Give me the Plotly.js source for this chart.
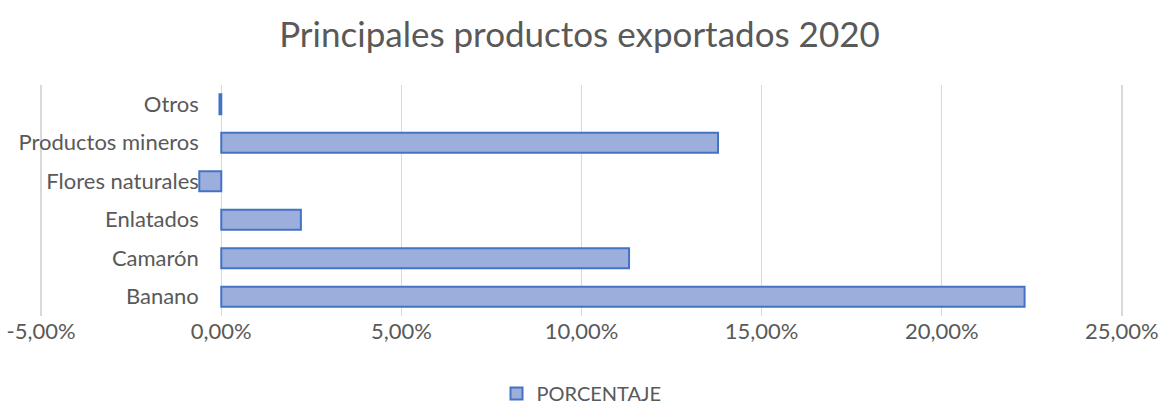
<!DOCTYPE html>
<html>
<head>
<meta charset="utf-8">
<script src="https://cdn.plot.ly/plotly-3.0.1.min.js"></script>
<style>html,body{margin:0;padding:0;background:#fff;}#chart{width:1159px;height:408px;}</style>
</head>
<body>
<div id="chart"></div>
<script>
const categories = ["Banano", "Camarón", "Enlatados", "Flores naturales", "Productos mineros", "Otros"];
const porcentaje = [0.223, 0.1132, 0.0221, -0.0061, 0.1379, -0.0005];
const tickVals = [-0.05, 0, 0.05, 0.10, 0.15, 0.20, 0.25];
const tickLabels = ["-5,00%", "0,00%", "5,00%", "10,00%", "15,00%", "20,00%", "25,00%"];
const seriesName = "PORCENTAJE";
const titleText = "Principales productos exportados 2020";

const ml = 39, mr = 35;
const xMin = -0.0506, xMax = 0.2506;
const zeroPos = (0 - xMin) / (xMax - xMin);

const font = "Lato, 'Open Sans', sans-serif";
const txt = "#595959";

Plotly.newPlot("chart", [{
  type: "bar",
  orientation: "h",
  x: porcentaje,
  y: categories,
  name: seriesName,
  marker: {color: "#9cafdc", line: {color: "#4472c4", width: 2}},
  showlegend: true,
  hoverinfo: "x+y"
}], {
  width: 1159, height: 408,
  margin: {l: ml, r: mr, t: 85, b: 92, autoexpand: false},
  paper_bgcolor: "#fff", plot_bgcolor: "#fff",
  font: {family: font, color: txt},
  title: {text: titleText, font: {family: font, size: 35, color: txt}, x: 0.5, xanchor: "center", y: 0.915, yanchor: "middle"},
  bargap: 0.48,
  xaxis: {
    range: [xMin, xMax], tickvals: tickVals, ticktext: tickLabels,
    showgrid: true, gridcolor: "#d9d9d9", gridwidth: 1.5,
    zeroline: true, zerolinecolor: "#d9d9d9", zerolinewidth: 1.5,
    showline: false, ticks: "", ticklen: 0, automargin: false,
    tickfont: {family: font, size: 22, color: txt}, fixedrange: true
  },
  yaxis: {
    type: "category", categoryorder: "array", categoryarray: categories,
    range: [-0.5, 5.5], anchor: "free", position: zeroPos, automargin: false,
    showgrid: false, zeroline: false, showline: false,
    ticks: "outside", ticklen: 18, tickcolor: "rgba(0,0,0,0)",
    tickfont: {family: font, size: 22, color: txt}, fixedrange: true
  },
  legend: {orientation: "h", x: 0.5, xanchor: "center", y: -0.335, yanchor: "middle",
           font: {family: font, size: 20, color: txt}}
}, {displayModeBar: false, staticPlot: true});
</script>
</body>
</html>
